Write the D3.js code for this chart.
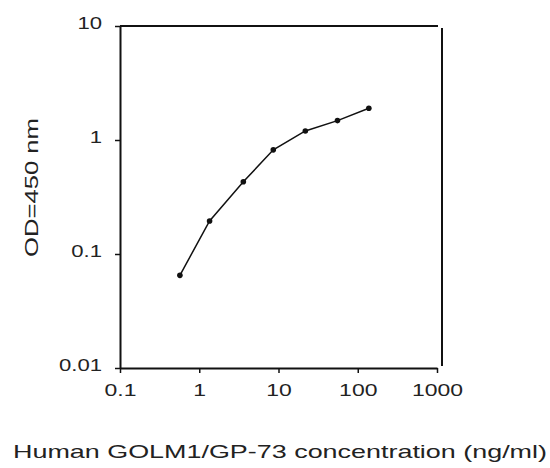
<!DOCTYPE html>
<html><head><meta charset="utf-8">
<script src="https://cdn.jsdelivr.net/npm/d3@7"></script>
<style>body{margin:0;background:#fff}svg{display:block}text{font-family:"Liberation Sans",Arial,sans-serif;fill:#222}</style>
</head><body>
<svg id="c" width="550" height="468"></svg>
<script>
const concentration = [0.57, 1.35, 3.6, 8.6, 21.8, 55.5, 138];
const od = [0.065, 0.195, 0.43, 0.82, 1.2, 1.48, 1.9];
const xTicks = [0.1, 1, 10, 100, 1000];
const xTickLabels = ["0.1", "1", "10", "100", "1000"];
const yTicks = [0.01, 0.1, 1, 10];
const yTickLabels = ["0.01", "0.1", "1", "10"];
const xTitle = "Human GOLM1/GP-73 concentration (ng/ml)";
const yTitle = "OD=450 nm";

const svg = d3.select("#c");
const L = 120, R = 437, T = 26, B = 368;
const x = d3.scaleLog().domain([0.1, 1000]).range([L, R]);
const y = d3.scaleLog().domain([0.01, 10]).range([B, T]);

function widen(sel, f) {
  sel.each(function() {
    const w = this.getComputedTextLength();
    d3.select(this).attr("textLength", w * f).attr("lengthAdjust", "spacingAndGlyphs");
  });
}

// x axis
const gx = svg.append("g").attr("transform", `translate(0,${B})`)
  .call(d3.axisBottom(x).tickValues(xTicks).tickFormat((d,i)=>xTickLabels[i]).tickSize(5).tickSizeOuter(0));
gx.select(".domain").attr("stroke", "#111").attr("stroke-width", 2);
gx.selectAll(".tick line").attr("stroke", "#111").attr("stroke-width", 1.5);
gx.selectAll(".tick text").attr("font-size", 17).attr("y", 16).attr("dy", "0.71em").attr("fill", "#333")
  .call(widen, 1.35);

// y axis
const gy = svg.append("g").attr("transform", `translate(${L},0)`)
  .call(d3.axisLeft(y).tickValues(yTicks).tickFormat((d,i)=>yTickLabels[i]).tickSize(5).tickSizeOuter(0));
gy.select(".domain").attr("stroke", "#111").attr("stroke-width", 2);
gy.selectAll(".tick line").attr("stroke", "#111").attr("stroke-width", 1.5);
gy.selectAll(".tick text").attr("font-size", 17).attr("x", -18).attr("dy", "0.15em").attr("fill", "#333")
  .call(widen, 1.3);

// top and right frame
svg.append("line").attr("x1", L).attr("x2", R + 1).attr("y1", T).attr("y2", T)
  .attr("stroke", "#111").attr("stroke-width", 2);
svg.append("line").attr("x1", R + 5).attr("x2", R + 5).attr("y1", T + 2).attr("y2", B - 2)
  .attr("stroke", "#111").attr("stroke-width", 2);

// data
const data = concentration.map((c, i) => ({c, v: od[i]}));
svg.append("path").datum(data)
  .attr("fill", "none").attr("stroke", "#111").attr("stroke-width", 1.5)
  .attr("d", d3.line().x(d => x(d.c)).y(d => y(d.v)));
svg.selectAll("circle.pt").data(data).join("circle").attr("class", "pt")
  .attr("cx", d => x(d.c)).attr("cy", d => y(d.v)).attr("r", 2.8).attr("fill", "#111");

// titles
svg.append("text").attr("x", 13).attr("y", 458).attr("font-size", 19)
  .attr("textLength", 534).attr("lengthAdjust", "spacingAndGlyphs").attr("fill", "#333").text(xTitle);
svg.append("text").attr("transform", "translate(38,257) rotate(-90)").attr("font-size", 18)
  .attr("textLength", 139).attr("lengthAdjust", "spacingAndGlyphs").attr("fill", "#333").text(yTitle);
</script>
</body></html>
